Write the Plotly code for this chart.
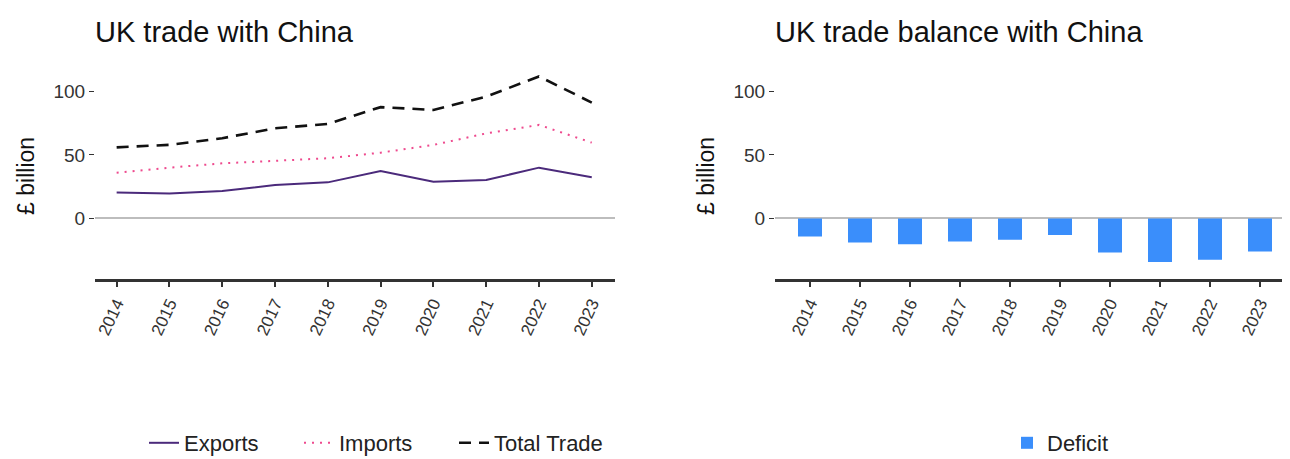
import plotly.graph_objects as go

years = [2014, 2015, 2016, 2017, 2018, 2019, 2020, 2021, 2022, 2023]
exports = [20.5, 19.7, 21.6, 26.3, 28.4, 37.4, 28.9, 30.3, 40.0, 32.4]
imports = [36.0, 40.0, 43.4, 45.5, 47.4, 51.8, 57.9, 67.0, 73.7, 59.7]
total_trade = [56.0, 58.0, 63.2, 71.0, 74.5, 87.7, 85.5, 96.0, 111.9, 91.3]
deficit = [-14.3, -19.0, -20.3, -18.2, -16.9, -13.0, -26.8, -34.3, -32.5, -26.0]
y_ticks = [0, 50, 100]

FONT = "Liberation Sans, Arial, sans-serif"
W, H = 1290, 459
OFF = 8  # page body margin offset


def px_x(p):
    return (p - OFF) / W


def px_y(p):
    return (H - (p - OFF)) / H


fig = go.Figure()

fig.add_trace(go.Scatter(x=years, y=exports, mode="lines", name="Exports",
                         line=dict(color="#4B2A7B", width=2, dash="solid"),
                         xaxis="x", yaxis="y", legend="legend"))
fig.add_trace(go.Scatter(x=years, y=imports, mode="lines", name="Imports",
                         line=dict(color="#EE4A8E", width=2, dash="2px,6px"),
                         xaxis="x", yaxis="y", legend="legend"))
fig.add_trace(go.Scatter(x=years, y=total_trade, mode="lines", name="Total Trade",
                         line=dict(color="#111111", width=2.6, dash="12px,8px"),
                         xaxis="x", yaxis="y", legend="legend"))
fig.add_trace(go.Bar(x=years, y=deficit, name="Deficit", width=0.48,
                     marker=dict(color="#3A8EFB", line=dict(width=0)),
                     xaxis="x2", yaxis="y2", legend="legend2"))

yd = [px_y(279.3), px_y(72.5)]
yr = [-48, 115]

common_x = dict(tickmode="array", tickvals=years, ticktext=[str(y) for y in years],
                tickangle=-65, showgrid=False, zeroline=False,
                showline=True, linecolor="#333333", linewidth=2.5,
                ticks="outside", ticklen=5, tickwidth=1.5, tickcolor="#333333",
                tickfont=dict(family=FONT, size=17, color="#333333"))
common_y = dict(range=yr, tickvals=y_ticks, showgrid=False, zeroline=True,
                zerolinecolor="#BDBDBD", zerolinewidth=1.5, showline=False,
                ticks="outside", ticklen=5, tickwidth=1.2, tickcolor="#333333",
                tickfont=dict(family=FONT, size=19, color="#333333"),
                title=dict(text="£ billion", font=dict(family=FONT, size=23, color="#111111"),
                           standoff=12))

fig.update_layout(
    width=W, height=H,
    margin=dict(l=0, r=0, t=0, b=0),
    paper_bgcolor="white", plot_bgcolor="white",
    xaxis=dict(domain=[px_x(95), px_x(615)], range=[2013.59, 2023.44], anchor="y", **common_x),
    yaxis=dict(domain=yd, anchor="x", **common_y),
    xaxis2=dict(domain=[px_x(775), px_x(1290)], range=[2013.3, 2023.6], anchor="y2", **common_x),
    yaxis2=dict(domain=yd, anchor="x2", **common_y),
    legend=dict(orientation="h", x=px_x(144), y=px_y(443), xanchor="left", yanchor="middle",
                font=dict(family=FONT, size=22, color="#222222"), bgcolor="rgba(0,0,0,0)",
                entrywidth=110, entrywidthmode="pixels"),
    legend2=dict(orientation="h", x=px_x(1007), y=px_y(443), xanchor="left", yanchor="middle",
                 font=dict(family=FONT, size=22, color="#222222"), bgcolor="rgba(0,0,0,0)"),
    annotations=[
        dict(text="UK trade with China", x=px_x(93), y=px_y(32), xref="paper", yref="paper",
             xanchor="left", yanchor="middle", showarrow=False,
             font=dict(family=FONT, size=29, color="#111111")),
        dict(text="UK trade balance with China", x=px_x(773), y=px_y(32), xref="paper", yref="paper",
             xanchor="left", yanchor="middle", showarrow=False,
             font=dict(family=FONT, size=29, color="#111111")),
    ],
)

fig.write_html("out.html")
